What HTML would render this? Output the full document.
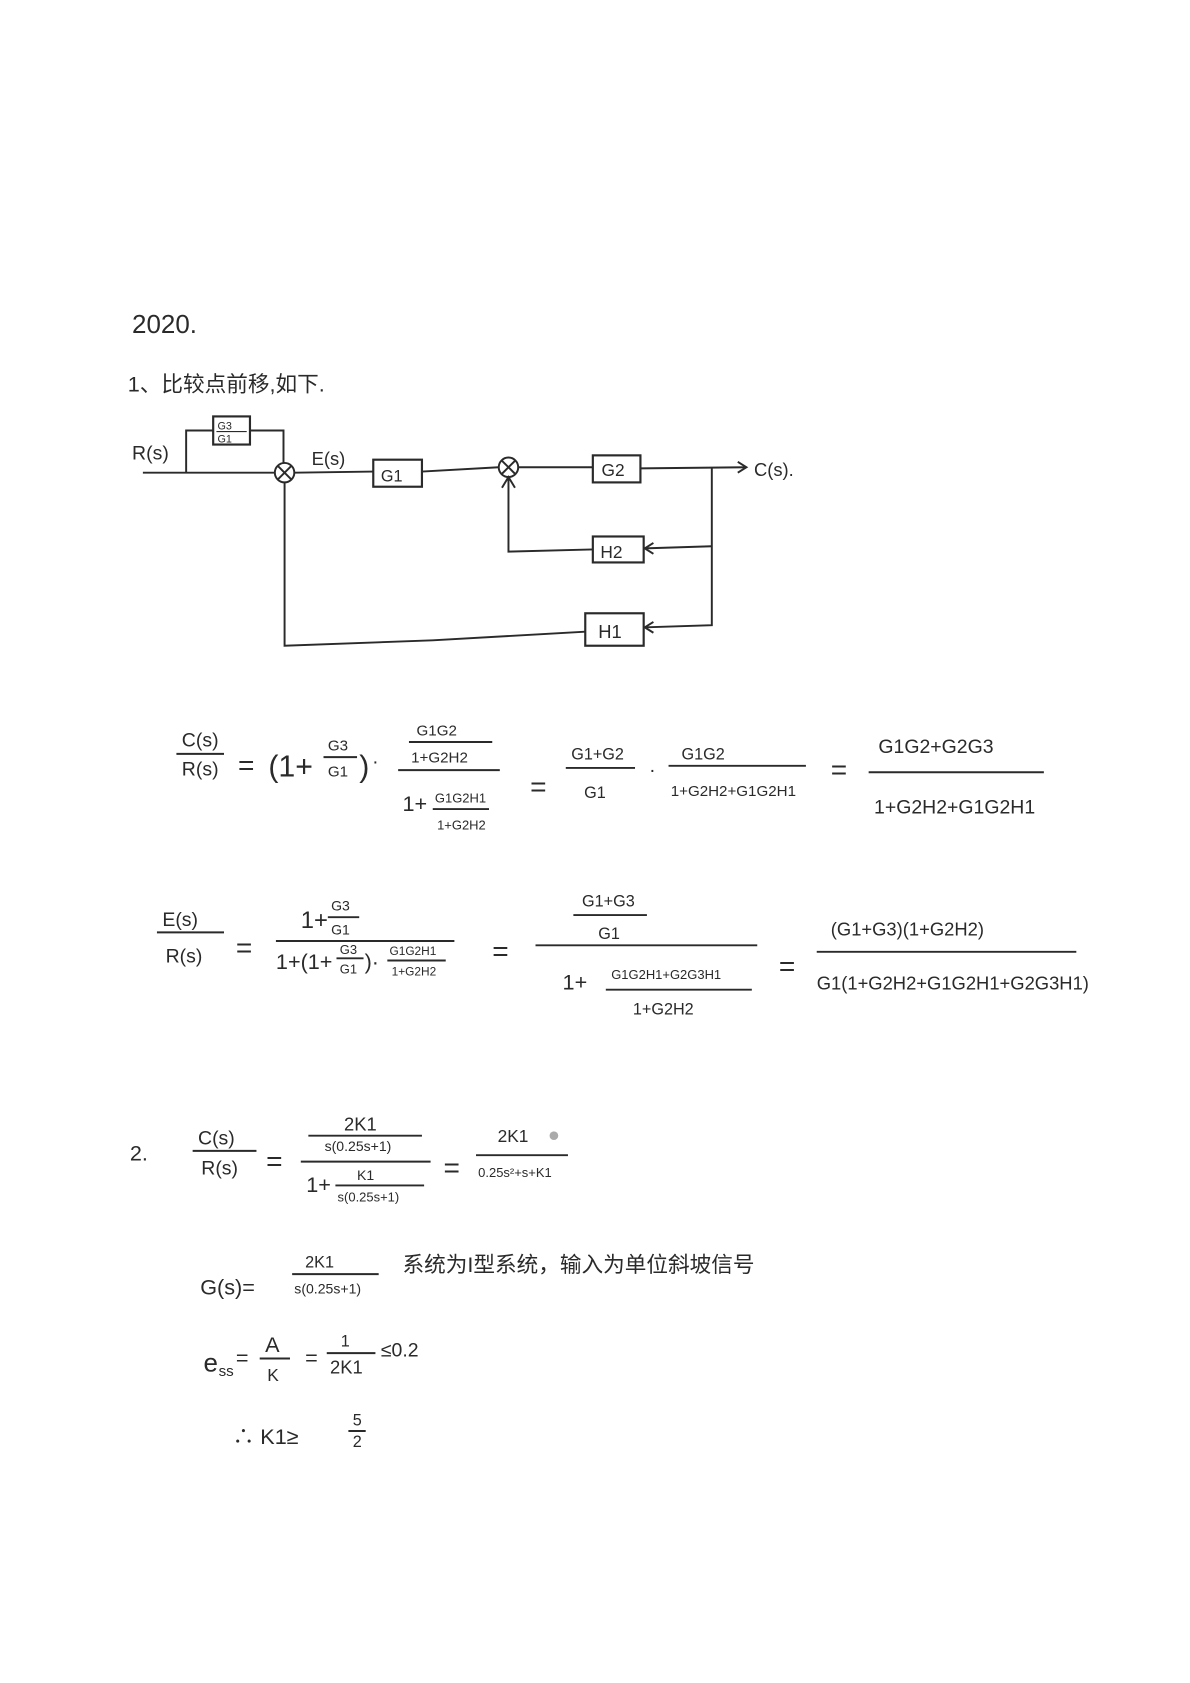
<!DOCTYPE html>
<html><head><meta charset="utf-8"><style>
html,body{margin:0;padding:0;background:#fff;}
svg{display:block;}
text{font-family:"Liberation Sans","Noto Sans CJK SC",sans-serif;fill:#2a2a2a;}
.l{stroke:#2a2a2a;stroke-width:1.8;fill:none;}
.b{stroke:#2a2a2a;stroke-width:2;fill:none;}
</style></head><body>
<svg width="1190" height="1683" viewBox="0 0 1100 1556" xmlns="http://www.w3.org/2000/svg">
<rect width="1100" height="1556" fill="#fff"/>
<text x="122" y="308" font-size="24">2020.</text>
<text x="118" y="362" font-size="20">1、比较点前移,如下.</text>

<!-- block diagram -->
<text x="122" y="425" font-size="18">R(s)</text>
<polyline class="l" points="132,437 254,437"/>
<polyline class="l" points="172,437 172,398 197,398"/>
<rect class="b" x="197" y="385" width="34" height="26"/>
<text x="201" y="397" font-size="10">G3</text><line class="l" x1="200" y1="399" x2="228" y2="399" style="stroke-width:1"/><text x="201" y="409" font-size="10">G1</text>
<polyline class="l" points="231,398 262,398 262,428"/>
<circle class="l" cx="263" cy="437" r="9"/>
<line class="l" x1="257" y1="431" x2="269" y2="443"/><line class="l" x1="269" y1="431" x2="257" y2="443"/>
<text x="288" y="430" font-size="17">E(s)</text>
<polyline class="l" points="272,437 345,436"/>
<rect class="b" x="345" y="425" width="45" height="25"/>
<text x="352" y="445" font-size="15">G1</text>
<polyline class="l" points="390,436 461,432"/>
<circle class="l" cx="470" cy="432" r="9"/>
<line class="l" x1="464" y1="426" x2="476" y2="438"/><line class="l" x1="476" y1="426" x2="464" y2="438"/>
<polyline class="l" points="479,432 548,432"/>
<rect class="b" x="548" y="421" width="44" height="25"/>
<text x="556" y="440" font-size="16">G2</text>
<polyline class="l" points="592,433 690,432"/>
<polyline class="l" points="682,427 690,432 682,437"/>
<text x="697" y="440" font-size="17">C(s).</text>
<polyline class="l" points="658,432 658,578 597,580"/>
<polyline class="l" points="658,505 596,507"/>
<polyline class="l" points="604,502 596,507 604,512"/>
<rect class="b" x="548" y="496" width="47" height="24"/>
<text x="555" y="516" font-size="16">H2</text>
<polyline class="l" points="548,508 470,510 470,441"/>
<polyline class="l" points="464,451 470,441 476,451"/>
<polyline class="l" points="604,575 596,580 604,585"/>
<rect class="b" x="541" y="567" width="54" height="30"/>
<text x="553" y="590" font-size="17">H1</text>
<polyline class="l" points="541,584 400,592 263,597 263,446"/>

<!-- Eq 1 -->
<text x="168" y="690" font-size="18">C(s)</text><line class="l" x1="163" y1="697" x2="207" y2="697"/><text x="168" y="717" font-size="18">R(s)</text>
<text x="220" y="716" font-size="26">=</text>
<text x="248" y="718" font-size="28">(1+</text>
<text x="303" y="694" font-size="14">G3</text><line class="l" x1="299" y1="700" x2="330" y2="700"/><text x="303" y="718" font-size="14">G1</text>
<text x="332" y="718" font-size="28">)</text><text x="344" y="710" font-size="18">·</text>
<text x="385" y="680" font-size="14">G1G2</text><line class="l" x1="378" y1="686" x2="455" y2="686"/><text x="380" y="705" font-size="14">1+G2H2</text>
<line class="l" x1="368" y1="712" x2="462" y2="712"/>
<text x="372" y="750" font-size="20">1+</text>
<text x="402" y="742" font-size="12">G1G2H1</text><line class="l" x1="400" y1="748" x2="452" y2="748"/><text x="404" y="767" font-size="12">1+G2H2</text>
<text x="490" y="736" font-size="26">=</text>
<text x="528" y="702" font-size="15">G1+G2</text><line class="l" x1="523" y1="710" x2="587" y2="710"/><text x="540" y="738" font-size="15">G1</text>
<text x="600" y="718" font-size="18">·</text>
<text x="630" y="702" font-size="15">G1G2</text><line class="l" x1="618" y1="708" x2="745" y2="708"/><text x="620" y="736" font-size="14">1+G2H2+G1G2H1</text>
<text x="768" y="720" font-size="26">=</text>
<text x="812" y="696" font-size="18">G1G2+G2G3</text><line class="l" x1="803" y1="714" x2="965" y2="714"/><text x="808" y="752" font-size="18">1+G2H2+G1G2H1</text>

<!-- Eq 2 -->
<text x="150" y="856" font-size="18">E(s)</text><line class="l" x1="145" y1="862" x2="207" y2="862"/><text x="153" y="890" font-size="18">R(s)</text>
<text x="218" y="885" font-size="26">=</text>
<text x="278" y="858" font-size="22">1+</text>
<text x="306" y="842" font-size="13">G3</text><line class="l" x1="303" y1="848" x2="332" y2="848"/><text x="306" y="864" font-size="13">G1</text>
<line class="l" x1="255" y1="870" x2="420" y2="870"/>
<text x="255" y="896" font-size="20">1+(1+</text>
<text x="314" y="882" font-size="12">G3</text><line class="l" x1="311" y1="886" x2="336" y2="886"/><text x="314" y="900" font-size="12">G1</text>
<text x="337" y="896" font-size="20">)·</text>
<text x="360" y="883" font-size="11">G1G2H1</text><line class="l" x1="358" y1="888" x2="412" y2="888"/><text x="362" y="902" font-size="11">1+G2H2</text>
<text x="455" y="888" font-size="26">=</text>
<text x="538" y="838" font-size="15">G1+G3</text><line class="l" x1="530" y1="846" x2="598" y2="846"/><text x="553" y="868" font-size="15">G1</text>
<line class="l" x1="495" y1="874" x2="700" y2="874"/>
<text x="520" y="915" font-size="20">1+</text>
<text x="565" y="905" font-size="12">G1G2H1+G2G3H1</text><line class="l" x1="560" y1="915" x2="695" y2="915"/><text x="585" y="938" font-size="15">1+G2H2</text>
<text x="720" y="902" font-size="26">=</text>
<text x="768" y="865" font-size="17">(G1+G3)(1+G2H2)</text><line class="l" x1="755" y1="880" x2="995" y2="880"/><text x="755" y="915" font-size="17">G1(1+G2H2+G1G2H1+G2G3H1)</text>

<!-- Part 2 -->
<text x="120" y="1073" font-size="20">2.</text>
<text x="183" y="1058" font-size="18">C(s)</text><line class="l" x1="178" y1="1064" x2="237" y2="1064"/><text x="186" y="1086" font-size="18">R(s)</text>
<text x="246" y="1082" font-size="26">=</text>
<text x="318" y="1045" font-size="17">2K1</text><line class="l" x1="285" y1="1050" x2="390" y2="1050"/><text x="300" y="1064" font-size="13">s(0.25s+1)</text>
<line class="l" x1="278" y1="1074" x2="398" y2="1074"/>
<text x="283" y="1102" font-size="20">1+</text>
<text x="330" y="1091" font-size="13">K1</text><line class="l" x1="310" y1="1096" x2="392" y2="1096"/><text x="312" y="1111" font-size="12">s(0.25s+1)</text>
<text x="410" y="1088" font-size="26">=</text>
<text x="460" y="1056" font-size="16">2K1</text><line class="l" x1="440" y1="1068" x2="525" y2="1068"/><text x="442" y="1088" font-size="12">0.25s²+s+K1</text>
<circle cx="512" cy="1050" r="4" fill="#aaa"/>

<text x="185" y="1197" font-size="20">G(s)=</text>
<text x="282" y="1172" font-size="15">2K1</text><line class="l" x1="270" y1="1178" x2="350" y2="1178"/><text x="272" y="1196" font-size="13">s(0.25s+1)</text>
<text x="372" y="1176" font-size="20">系统为I型系统，输入为单位斜坡信号</text>

<text x="188" y="1268" font-size="24">e</text><text x="202" y="1272" font-size="14">ss</text><text x="218" y="1262" font-size="20">=</text>
<text x="245" y="1250" font-size="20">A</text><line class="l" x1="240" y1="1256" x2="268" y2="1256"/><text x="247" y="1277" font-size="16">K</text>
<text x="282" y="1262" font-size="20">=</text>
<text x="315" y="1245" font-size="15">1</text><line class="l" x1="302" y1="1251" x2="347" y2="1251"/><text x="305" y="1270" font-size="17">2K1</text>
<text x="352" y="1254" font-size="18">≤0.2</text>

<text x="215" y="1335" font-size="20">∴ K1≥</text>
<text x="326" y="1318" font-size="15">5</text><line class="l" x1="322" y1="1323" x2="338" y2="1323"/><text x="326" y="1338" font-size="15">2</text>
</svg>
</body></html>
